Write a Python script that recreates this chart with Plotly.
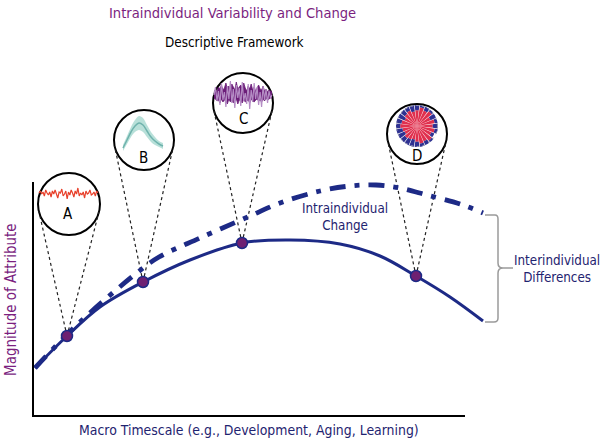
import math
import plotly.graph_objects as go

# ---------------- data (chart units: px-like timescale / magnitude) ----------------
solid_x = [35, 67, 100, 143, 190, 242, 290, 340, 380, 416, 450, 483]
solid_y = [368, 336, 307, 282, 260, 243, 240, 244, 256, 276, 297, 321]

dash_x = [35, 80, 138, 159, 200, 250, 280, 320, 350, 376, 400, 427, 460, 483]
dash_y = [368, 322, 272, 257, 238, 216, 203, 191, 186, 185, 188, 195, 204, 213]

point_x = [67, 143, 242, 416]
point_y = [336, 282, 243, 276]
point_labels = ["A", "B", "C", "D"]

# inset A: raw noisy series
inset_a = [0, -2, 1, -1, 3, -3, 0, 2, -1, 4, -2, 1, -3, 2, 5, -1, 0, -4, 3, 1, -2, 6,
           -1, 2, -3, 0, 4, -2, 1, -5, 3, 0, 2, -1, 5, -2, 1, 0, -3, 2, 1, -1, 3, -2, 0]
# inset B: mean curve and band half-width
inset_b_mean = [0, 8, 16, 22, 25, 23, 17, 11, 7, 4, 2]
inset_b_band = [3, 4, 5, 6, 7, 7, 6, 5, 4, 3, 3]
# inset C: dense fluctuation (upper / lower envelopes and spiky overlay)
inset_c_up = [3, 5, 4, 8, 6, 10, 5, 7, 12, 6, 9, 4, 11, 7, 5, 13, 6, 8, 10, 5, 12, 7, 4, 9,
              6, 11, 5, 8, 4, 7, 10, 6, 5, 9, 4, 6, 3, 5, 4, 3]
inset_c_low = [3, 4, 6, 5, 8, 4, 7, 5, 6, 9, 4, 7, 5, 8, 6, 4, 9, 5, 6, 8, 4, 7, 6, 5,
               8, 4, 6, 7, 5, 4, 6, 5, 7, 4, 6, 3, 5, 4, 3, 3]
inset_c_spike = [0, -8, 6, -4, 10, -12, 5, -3, 12, -9, 4, -14, 8, -6, 13, -10, 3, -7, 11, -13,
                 6, -2, 9, -11, 14, -5, 7, -12, 4, -8, 10, -3, 12, -9, 5, -6, 8, -4, 3, 0]
# inset D: radial profile
inset_d_theta = [i * 15 for i in range(24)]
inset_d_red = [15, 17, 14, 18, 16, 18, 15, 14, 16, 15, 13, 15, 16, 14, 13, 15, 14, 13, 15, 17, 16, 18, 15, 17]
inset_d_navy = [5, 3, 6, 4, 7, 9, 12, 14, 11, 13, 12, 13, 12, 13, 11, 12, 11, 10, 8, 6, 4, 7, 3, 5]

# ---------------- style / layout ----------------
W, H = 606, 448
NAVY = "#1d2a86"
TXT_NAVY = "#1f2470"
PURPLE = "#7b1f7f"
FONT = "Liberation Sans Narrow, Arial Narrow, DejaVu Sans Condensed, sans-serif"

circles = {"A": (69, 204, 31), "B": (144, 140, 30), "C": (243, 103, 30), "D": (417, 134, 30)}

fig = go.Figure()

# dashed connector lines (tangents from point to circle)
for px, py, lab in zip(point_x, point_y, point_labels):
    cx, cy, r = circles[lab]
    dx, dy = px - cx, py - cy
    d = math.hypot(dx, dy)
    base = math.atan2(dy, dx)
    a = math.acos(r / d)
    for s in (1, -1):
        tx = cx + r * math.cos(base + s * a)
        ty = cy + r * math.sin(base + s * a)
        fig.add_trace(go.Scatter(x=[px, tx], y=[py, ty], mode="lines",
                                 line=dict(color="#222", width=1.2, dash="3px,3px"),
                                 hoverinfo="skip", showlegend=False))

# curves
fig.add_trace(go.Scatter(x=dash_x, y=dash_y, mode="lines", line_shape="spline",
                         line=dict(color=NAVY, width=4.8, dash="16px,9px,5px,9px"),
                         showlegend=False))
fig.add_trace(go.Scatter(x=solid_x, y=solid_y, mode="lines", line_shape="spline",
                         line=dict(color=NAVY, width=3), showlegend=False))
fig.add_trace(go.Scatter(x=point_x, y=point_y, mode="markers",
                         marker=dict(size=11, color="#6e2072", line=dict(color=NAVY, width=1.5)),
                         showlegend=False))

# inset A
n = len(inset_a)
ax_ = [39 + i * (98 - 39) / (n - 1) for i in range(n)]
fig.add_trace(go.Scatter(x=ax_, y=[193 + v for v in inset_a], mode="lines",
                         line=dict(color="#e8412c", width=1.2), showlegend=False))

# inset B
nb = len(inset_b_mean)
bx = [123 + i * 4 for i in range(nb)]
fig.add_trace(go.Scatter(x=bx, y=[148 - m - b for m, b in zip(inset_b_mean, inset_b_band)],
                         mode="lines", line=dict(color="rgba(0,0,0,0)", width=0, shape="spline"),
                         showlegend=False))
fig.add_trace(go.Scatter(x=bx, y=[148 - m + b for m, b in zip(inset_b_mean, inset_b_band)],
                         mode="lines", fill="tonexty", fillcolor="rgba(160,214,204,0.75)",
                         line=dict(color="rgba(0,0,0,0)", width=0, shape="spline"),
                         showlegend=False))
fig.add_trace(go.Scatter(x=bx, y=[148 - m for m in inset_b_mean], mode="lines",
                         line=dict(color="#6fb3ad", width=1.5, shape="spline"), showlegend=False))

# inset C
nc = len(inset_c_up)
cxs = [214 + i * (272 - 214) / (nc - 1) for i in range(nc)]
fig.add_trace(go.Scatter(x=cxs, y=[95 - v for v in inset_c_up], mode="lines",
                         line=dict(color="#6b1d78", width=0.8), showlegend=False))
fig.add_trace(go.Scatter(x=cxs, y=[95 + v for v in inset_c_low], mode="lines",
                         fill="tonexty", fillcolor="#6b1d78",
                         line=dict(color="#6b1d78", width=0.8), showlegend=False))
fig.add_trace(go.Scatter(x=cxs, y=[95 + v for v in inset_c_spike], mode="lines",
                         line=dict(color="#b48cc4", width=1.2), showlegend=False))

# inset D (polar)
dcx, dcy, dr = 417, 126, 21
fig.add_trace(go.Barpolar(theta=inset_d_theta, r=inset_d_red, marker_color="#e0304e",
                          marker_line_width=0, width=[13] * 24, showlegend=False))
fig.add_trace(go.Barpolar(theta=inset_d_theta, r=inset_d_navy, marker_color="#2e3192",
                          marker_line_width=0, width=[13] * 24, showlegend=False))
fig.add_trace(go.Scatterpolar(theta=list(range(0, 361, 5)), r=[19.5] * 73, mode="lines",
                              line=dict(color="#bbb", width=0.8, dash="dot"), showlegend=False))

# shapes: axes, circles, brace
shapes = [
    dict(type="line", x0=33, x1=33, y0=182, y1=417, line=dict(color="black", width=2)),
    dict(type="line", x0=32, x1=465, y0=416, y1=416, line=dict(color="black", width=2)),
    dict(type="path", path="M 485 215 L 495 215 Q 498 215 498 219 L 498 263 Q 498 268 503 268 L 513 268 "
                           "M 503 268 Q 498 268 498 273 L 498 318 Q 498 322 494 322 L 485 322",
         line=dict(color="#9a9a9a", width=1.5)),
]
for lab, (cx, cy, r) in circles.items():
    shapes.append(dict(type="circle", x0=cx - r, x1=cx + r, y0=cy - r, y1=cy + r,
                       fillcolor="white", line=dict(color="black", width=2), layer="below"))

letter_pos = {"A": (68, 214), "B": (143, 158), "C": (243, 119), "D": (417, 156)}
ann = []
for lab, (lx, ly) in letter_pos.items():
    ann.append(dict(x=lx, y=ly, text=lab, showarrow=False, font=dict(size=15, color="black", family=FONT)))

ann += [
    dict(x=232, y=12, text="Intraindividual Variability and Change", showarrow=False,
         font=dict(size=14.6, color=PURPLE, family=FONT)),
    dict(x=234, y=42, text="Descriptive Framework", showarrow=False,
         font=dict(size=13.4, color="black", family=FONT)),
    dict(x=11, y=300, text="Magnitude of Attribute", showarrow=False, textangle=-90,
         font=dict(size=15, color=PURPLE, family=FONT)),
    dict(x=249, y=430, text="Macro Timescale (e.g., Development, Aging, Learning)", showarrow=False,
         font=dict(size=13.9, color=TXT_NAVY, family=FONT)),
    dict(x=345, y=217, text="Intraindividual<br>Change", showarrow=False,
         font=dict(size=13.3, color=TXT_NAVY, family=FONT)),
    dict(x=557, y=269, text="Interindividual<br>Differences", showarrow=False,
         font=dict(size=13.3, color=TXT_NAVY, family=FONT)),
]

fig.update_layout(
    width=W, height=H, margin=dict(l=0, r=0, t=0, b=0),
    paper_bgcolor="white", plot_bgcolor="white",
    xaxis=dict(range=[0, W], visible=False, domain=[0, 1]),
    yaxis=dict(range=[H, 0], visible=False, domain=[0, 1]),
    polar=dict(domain=dict(x=[(dcx - dr) / W, (dcx + dr) / W],
                           y=[1 - (dcy + dr) / H, 1 - (dcy - dr) / H]),
               bgcolor="rgba(0,0,0,0)",
               radialaxis=dict(visible=False, range=[0, 20]),
               angularaxis=dict(visible=False)),
    shapes=shapes, annotations=ann, showlegend=False,
)

fig.write_html("out.html", config={"displayModeBar": False},
               post_script="document.body.style.margin='0';document.body.style.overflow='hidden';")
